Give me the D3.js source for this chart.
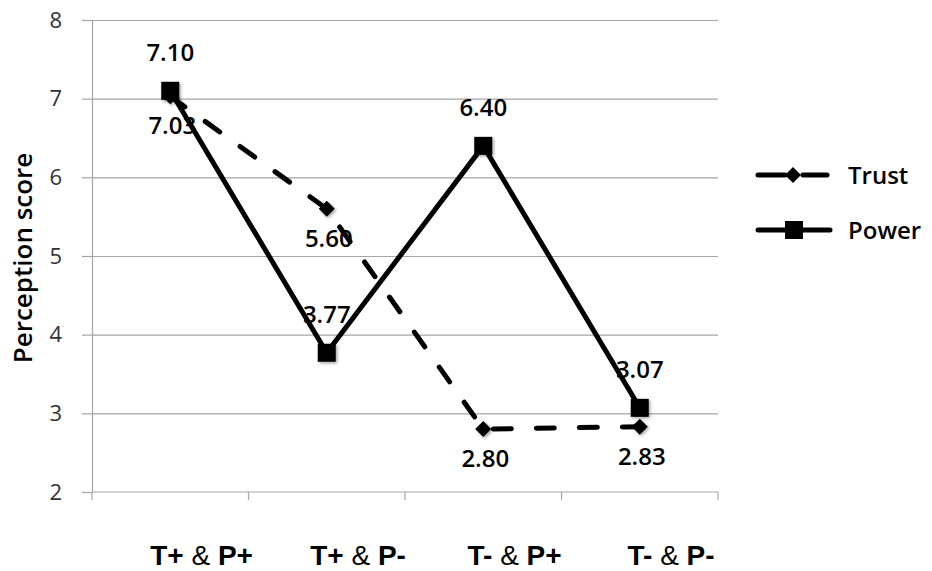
<!DOCTYPE html>
<html>
<head>
<meta charset="utf-8">
<script src="https://cdn.jsdelivr.net/npm/d3@7"></script>
<style>
  body { margin: 0; background: #fff; }
  svg { display: block; }
</style>
</head>
<body>
<svg width="932" height="571"></svg>
<script>
// chart data
const categories = ['T+ & P+', 'T+ & P-', 'T- & P+', 'T- & P-'];
const trustValues = [7.03, 5.60, 2.80, 2.83];
const powerValues = [7.10, 3.77, 6.40, 3.07];
const yTicks = [2, 3, 4, 5, 6, 7, 8];

const plotLeft = 92, plotRight = 718, plotTop = 20, plotBottom = 492;

const svg = d3.select('svg');

// soft shadow like the office marker
const defs = svg.append('defs');
defs.append('filter')
    .attr('id', 'shadow')
    .attr('x', '-50%').attr('y', '-50%')
    .attr('width', '200%').attr('height', '200%')
    .append('feDropShadow')
    .attr('dx', 1.5).attr('dy', 1.5)
    .attr('stdDeviation', 1.5)
    .attr('flood-color', '#000')
    .attr('flood-opacity', 0.35);

const xScale = d3.scaleBand().domain(categories).range([plotLeft, plotRight]).padding(0);
const yScale = d3.scaleLinear().domain([2, 8]).range([plotBottom, plotTop]);
const cx = c => xScale(c) + xScale.bandwidth() / 2;

// gridlines
svg.append('g')
    .attr('transform', `translate(${plotLeft},0)`)
    .call(d3.axisLeft(yScale).tickValues(yTicks.slice(1)).tickSize(-(plotRight - plotLeft)).tickFormat(''))
    .call(g => g.select('.domain').remove())
    .selectAll('line')
    .attr('stroke', '#a6a6a6')
    .attr('stroke-width', 1.2);

// y axis
const yAxis = svg.append('g')
    .attr('transform', `translate(${plotLeft},0)`)
    .call(d3.axisLeft(yScale).tickValues(yTicks).tickFormat(d3.format('d'))
        .tickSize(10).tickSizeOuter(0).tickPadding(20));
yAxis.select('.domain').attr('stroke', '#a6a6a6').attr('stroke-width', 1.2);
yAxis.selectAll('line').attr('stroke', '#a6a6a6').attr('stroke-width', 1.2);
yAxis.selectAll('text')
    .style('font-family', 'Open Sans')
    .style('font-size', '22px')
    .style('fill', '#333');

// x axis line and tick marks at category edges
svg.append('line')
    .attr('x1', plotLeft).attr('x2', plotRight)
    .attr('y1', yScale(2)).attr('y2', yScale(2))
    .attr('stroke', '#a6a6a6').attr('stroke-width', 1.2);
const edges = categories.map(c => xScale(c)).concat([xScale.range()[1]]);
svg.selectAll('.xtick')
    .data(edges)
    .enter()
    .append('line')
    .classed('xtick', true)
    .attr('x1', d => d).attr('x2', d => d)
    .attr('y1', yScale(2)).attr('y2', yScale(2) + 8)
    .attr('stroke', '#a6a6a6').attr('stroke-width', 1.2);

// category labels, bold letters with a plain ampersand
const catLabels = svg.selectAll('.cat')
    .data(categories)
    .enter()
    .append('text')
    .classed('cat', true)
    .attr('x', d => cx(d) + xScale.bandwidth() * 0.2)
    .attr('y', 565)
    .style('font-family', 'Liberation Sans, Arial')
    .style('font-size', '28px')
    .style('fill', '#000')
    .style('text-anchor', 'middle');
catLabels.each(function(d) {
    const parts = d.split(' & ');
    const t = d3.select(this);
    t.append('tspan').style('font-weight', 'bold').text(parts[0]);
    t.append('tspan').text(' & ');
    t.append('tspan').style('font-weight', 'bold').text(parts[1]);
});

// y title
svg.append('text')
    .attr('transform', `translate(32,${(plotTop + plotBottom) / 2 + 2}) rotate(-90)`)
    .style('font-family', 'Open Sans')
    .style('font-weight', '600')
    .style('font-size', '26px')
    .style('fill', '#000')
    .style('text-anchor', 'middle')
    .text('Perception score');

const line = d3.line()
    .x((d, i) => cx(categories[i]))
    .y(d => yScale(d));

// trust series
svg.append('path')
    .datum(trustValues)
    .attr('d', line)
    .attr('fill', 'none')
    .attr('stroke', '#000')
    .attr('stroke-width', 5)
    .attr('stroke-linecap', 'round')
    .attr('stroke-dasharray', '18,25');

// power series
svg.append('path')
    .datum(powerValues)
    .attr('d', line)
    .attr('fill', 'none')
    .attr('stroke', '#000')
    .attr('stroke-width', 5)
    .attr('stroke-linejoin', 'round');

const diamond = 'M0,-8L8,0L0,8L-8,0Z';

svg.selectAll('.tmark')
    .data(trustValues)
    .enter()
    .append('path')
    .classed('tmark', true)
    .attr('d', diamond)
    .attr('transform', (d, i) => `translate(${cx(categories[i])},${yScale(d)})`)
    .attr('fill', '#000')
    .attr('filter', 'url(#shadow)');

svg.selectAll('.pmark')
    .data(powerValues)
    .enter()
    .append('rect')
    .classed('pmark', true)
    .attr('x', (d, i) => cx(categories[i]) - 9)
    .attr('y', d => yScale(d) - 9)
    .attr('width', 18)
    .attr('height', 18)
    .attr('fill', '#000')
    .attr('filter', 'url(#shadow)');

// data labels
const fmt = d3.format('.2f');
const labelStyle = sel => sel
    .style('font-family', 'Open Sans')
    .style('font-weight', '600')
    .style('font-size', '24px')
    .style('fill', '#000')
    .style('text-anchor', 'middle');

svg.selectAll('.plabel')
    .data(powerValues)
    .enter()
    .append('text')
    .classed('plabel', true)
    .attr('x', (d, i) => cx(categories[i]))
    .attr('y', d => yScale(d) - 30)
    .text(d => fmt(d))
    .call(labelStyle);

svg.selectAll('.tlabel')
    .data(trustValues)
    .enter()
    .append('text')
    .classed('tlabel', true)
    .attr('x', (d, i) => cx(categories[i]) + 2)
    .attr('y', d => yScale(d) + 38)
    .text(d => fmt(d))
    .call(labelStyle);

// legend
const legend = svg.append('g').attr('transform', 'translate(758,0)');
legend.append('line')
    .attr('x1', 0).attr('x2', 27).attr('y1', 175).attr('y2', 175)
    .attr('stroke', '#000').attr('stroke-width', 5).attr('stroke-linecap', 'round');
legend.append('line')
    .attr('x1', 45).attr('x2', 69).attr('y1', 175).attr('y2', 175)
    .attr('stroke', '#000').attr('stroke-width', 5).attr('stroke-linecap', 'round');
legend.append('path')
    .attr('d', diamond)
    .attr('transform', 'translate(35,175)')
    .attr('fill', '#000');
legend.append('line')
    .attr('x1', 0).attr('x2', 72).attr('y1', 230).attr('y2', 230)
    .attr('stroke', '#000').attr('stroke-width', 5).attr('stroke-linecap', 'round');
legend.append('rect')
    .attr('x', 27).attr('y', 221).attr('width', 18).attr('height', 18)
    .attr('fill', '#000');
legend.append('text')
    .attr('x', 90).attr('y', 184)
    .text('Trust')
    .call(labelStyle)
    .style('text-anchor', 'start');
legend.append('text')
    .attr('x', 90).attr('y', 239)
    .text('Power')
    .call(labelStyle)
    .style('text-anchor', 'start');
</script>
</body>
</html>
